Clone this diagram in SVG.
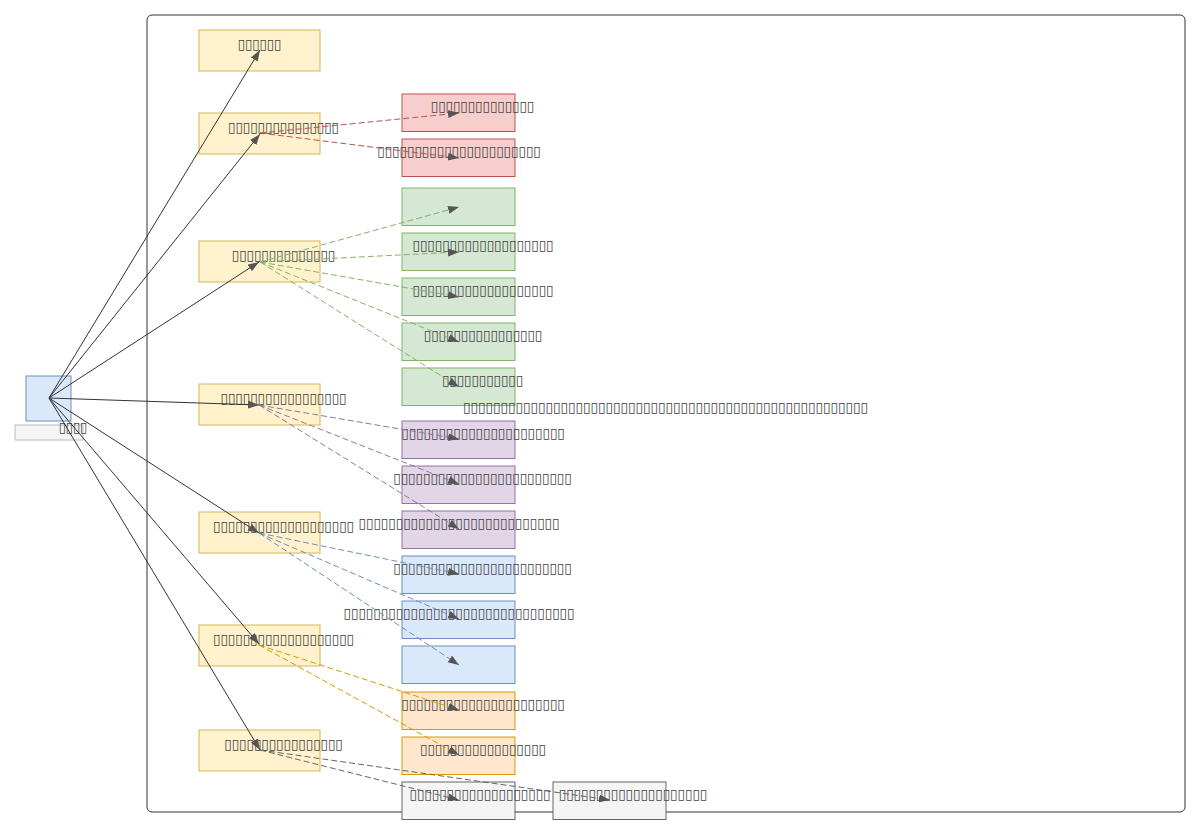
<svg xmlns="http://www.w3.org/2000/svg" width="1200" height="835" viewBox="0 0 1200 835">
<style>
.t{font-family:"DejaVu Sans",sans-serif;font-size:14px;fill:#444;text-anchor:middle;dominant-baseline:central}
.y{fill:#fff2cc;stroke:#d6b656}
.r{fill:#f8cecc;stroke:#b85450}
.g{fill:#d5e8d4;stroke:#82b366}
.p{fill:#e1d5e7;stroke:#9673a6}
.b{fill:#dae8fc;stroke:#6c8ebf}
.o{fill:#ffe6cc;stroke:#d79b00}
.s{fill:#f5f5f5;stroke:#666}
.k{stroke:#333;stroke-width:1;fill:none;marker-end:url(#ah)}
.d{stroke-width:1;fill:none;stroke-dasharray:6 3;marker-end:url(#ah)}
</style>
<defs>
<marker id="ah" markerUnits="userSpaceOnUse" markerWidth="12" markerHeight="9" refX="11" refY="4" orient="auto">
<path d="M0,0 L11,4 L0,8 z" fill="#555"/>
</marker>
</defs>
<rect width="1200" height="835" fill="#fff"/>
<rect id="container" x="147" y="15" width="1038" height="797" rx="5" fill="#fff" stroke="#333"/>

<g id="root">
<rect x="26" y="376" width="45" height="45" class="b"/>
<rect x="15" y="425" width="68" height="15" fill="#f5f5f5" stroke="#bbb"/>
<text class="t" x="73" y="427" textLength="28.5" lengthAdjust="spacingAndGlyphs">▯▯▯▯</text>
</g>

<g id="n1"><rect x="199" y="30" width="121" height="41" class="y"/><text class="t" x="259.5" y="44" textLength="43.5" lengthAdjust="spacingAndGlyphs">▯▯▯▯▯▯</text></g>
<g id="n2"><rect x="199" y="113" width="121" height="41" class="y"/><text class="t" x="283.5" y="127" textLength="111" lengthAdjust="spacingAndGlyphs">▯▯▯▯▯▯▯▯▯▯▯▯▯▯▯</text></g>
<g id="n3"><rect x="199" y="241" width="121" height="41" class="y"/><text class="t" x="283.5" y="255" textLength="103.5" lengthAdjust="spacingAndGlyphs">▯▯▯▯▯▯▯▯▯▯▯▯▯▯</text></g>
<g id="n4"><rect x="199" y="384" width="121" height="41" class="y"/><text class="t" x="283.5" y="398" textLength="126" lengthAdjust="spacingAndGlyphs">▯▯▯▯▯▯▯▯▯▯▯▯▯▯▯▯▯</text></g>
<g id="n5"><rect x="199" y="512" width="121" height="41" class="y"/><text class="t" x="283.5" y="526" textLength="141" lengthAdjust="spacingAndGlyphs">▯▯▯▯▯▯▯▯▯▯▯▯▯▯▯▯▯▯▯</text></g>
<g id="n6"><rect x="199" y="625" width="121" height="41" class="y"/><text class="t" x="283.5" y="639" textLength="141" lengthAdjust="spacingAndGlyphs">▯▯▯▯▯▯▯▯▯▯▯▯▯▯▯▯▯▯▯</text></g>
<g id="n7"><rect x="199" y="730" width="121" height="41" class="y"/><text class="t" x="283.5" y="744" textLength="118.5" lengthAdjust="spacingAndGlyphs">▯▯▯▯▯▯▯▯▯▯▯▯▯▯▯▯</text></g>

<g id="r1"><rect x="402" y="94" width="113" height="37.5" class="r"/><text class="t" x="482.5" y="106" textLength="103.5" lengthAdjust="spacingAndGlyphs">▯▯▯▯▯▯▯▯▯▯▯▯▯▯</text></g>
<g id="r2"><rect x="402" y="139" width="113" height="37.5" class="r"/><text class="t" x="459" y="151" textLength="163.5" lengthAdjust="spacingAndGlyphs">▯▯▯▯▯▯▯▯▯▯▯▯▯▯▯▯▯▯▯▯▯▯</text></g>

<g id="g1"><rect x="402" y="188" width="113" height="37.5" class="g"/></g>
<g id="g2"><rect x="402" y="233" width="113" height="37.5" class="g"/><text class="t" x="483" y="245" textLength="141" lengthAdjust="spacingAndGlyphs">▯▯▯▯▯▯▯▯▯▯▯▯▯▯▯▯▯▯▯</text></g>
<g id="g3"><rect x="402" y="278" width="113" height="37.5" class="g"/><text class="t" x="483" y="290" textLength="141" lengthAdjust="spacingAndGlyphs">▯▯▯▯▯▯▯▯▯▯▯▯▯▯▯▯▯▯▯</text></g>
<g id="g4"><rect x="402" y="323" width="113" height="37.5" class="g"/><text class="t" x="483" y="335" textLength="118.5" lengthAdjust="spacingAndGlyphs">▯▯▯▯▯▯▯▯▯▯▯▯▯▯▯▯</text></g>
<g id="g5"><rect x="402" y="368" width="113" height="37.5" class="g"/><text class="t" x="482.5" y="380" textLength="81" lengthAdjust="spacingAndGlyphs">▯▯▯▯▯▯▯▯▯▯▯</text></g>
<g id="g1label"><text class="t" x="665.5" y="407" textLength="405" lengthAdjust="spacingAndGlyphs">▯▯▯▯▯▯▯▯▯▯▯▯▯▯▯▯▯▯▯▯▯▯▯▯▯▯▯▯▯▯▯▯▯▯▯▯▯▯▯▯▯▯▯▯▯▯▯▯▯▯▯▯▯▯</text></g>

<g id="p1"><rect x="402" y="421" width="113" height="37.5" class="p"/><text class="t" x="483" y="433" textLength="163.5" lengthAdjust="spacingAndGlyphs">▯▯▯▯▯▯▯▯▯▯▯▯▯▯▯▯▯▯▯▯▯▯</text></g>
<g id="p2"><rect x="402" y="466" width="113" height="37.5" class="p"/><text class="t" x="482.5" y="478" textLength="178.5" lengthAdjust="spacingAndGlyphs">▯▯▯▯▯▯▯▯▯▯▯▯▯▯▯▯▯▯▯▯▯▯▯▯</text></g>
<g id="p3"><rect x="402" y="511" width="113" height="37.5" class="p"/><text class="t" x="459" y="523" textLength="201" lengthAdjust="spacingAndGlyphs">▯▯▯▯▯▯▯▯▯▯▯▯▯▯▯▯▯▯▯▯▯▯▯▯▯▯▯</text></g>

<g id="b1"><rect x="402" y="556" width="113" height="37.5" class="b"/><text class="t" x="482.5" y="568" textLength="178.5" lengthAdjust="spacingAndGlyphs">▯▯▯▯▯▯▯▯▯▯▯▯▯▯▯▯▯▯▯▯▯▯▯▯</text></g>
<g id="b2"><rect x="402" y="601" width="113" height="37.5" class="b"/><text class="t" x="459" y="613" textLength="231" lengthAdjust="spacingAndGlyphs">▯▯▯▯▯▯▯▯▯▯▯▯▯▯▯▯▯▯▯▯▯▯▯▯▯▯▯▯▯▯▯</text></g>
<g id="b3"><rect x="402" y="646" width="113" height="37.5" class="b"/></g>

<g id="o1"><rect x="402" y="692" width="113" height="37.5" class="o"/><text class="t" x="483" y="704" textLength="163.5" lengthAdjust="spacingAndGlyphs">▯▯▯▯▯▯▯▯▯▯▯▯▯▯▯▯▯▯▯▯▯▯</text></g>
<g id="o2"><rect x="402" y="737" width="113" height="37.5" class="o"/><text class="t" x="483" y="749" textLength="126" lengthAdjust="spacingAndGlyphs">▯▯▯▯▯▯▯▯▯▯▯▯▯▯▯▯▯</text></g>

<g id="s1"><rect x="402" y="782" width="113" height="37.5" class="s"/><text class="t" x="480" y="794" textLength="141" lengthAdjust="spacingAndGlyphs">▯▯▯▯▯▯▯▯▯▯▯▯▯▯▯▯▯▯▯</text></g>
<g id="s2"><rect x="553" y="782" width="113" height="37.5" class="s"/><text class="t" x="633" y="794" textLength="148.5" lengthAdjust="spacingAndGlyphs">▯▯▯▯▯▯▯▯▯▯▯▯▯▯▯▯▯▯▯▯</text></g>

<g id="connectors">
<path class="k" d="M49,398 L260,50"/>
<path class="k" d="M49,398 L260,134"/>
<path class="k" d="M49,398 L259,262"/>
<path class="k" d="M49,398 L259,405"/>
<path class="k" d="M49,398 L259,533"/>
<path class="k" d="M49,398 L259,644"/>
<path class="k" d="M49,398 L260,750"/>

<path class="d" stroke="#b85450" d="M260,133 L459,113"/>
<path class="d" stroke="#b85450" d="M260,133 L459,158"/>

<path class="d" stroke="#82b366" d="M260,262 L459,207"/>
<path class="d" stroke="#82b366" d="M260,262 L459,252"/>
<path class="d" stroke="#82b366" d="M260,262 L459,297"/>
<path class="d" stroke="#82b366" d="M260,262 L459,342"/>
<path class="d" stroke="#82b366" d="M260,262 L459,387"/>

<path class="d" stroke="#9673a6" d="M259,405 L459,439"/>
<path class="d" stroke="#9673a6" d="M259,405 L459,484"/>
<path class="d" stroke="#9673a6" d="M259,405 L459,529"/>

<path class="d" stroke="#6c8ebf" d="M259,533 L459,574"/>
<path class="d" stroke="#6c8ebf" d="M259,533 L459,619"/>
<path class="d" stroke="#6c8ebf" d="M259,533 L459,665"/>

<path class="d" stroke="#d79b00" d="M259,645 L459,710"/>
<path class="d" stroke="#d79b00" d="M259,645 L459,755"/>

<path class="d" stroke="#666" d="M260,750 L459,800"/>
<path class="d" stroke="#666" d="M260,750 L610,800"/>
</g>
</svg>
